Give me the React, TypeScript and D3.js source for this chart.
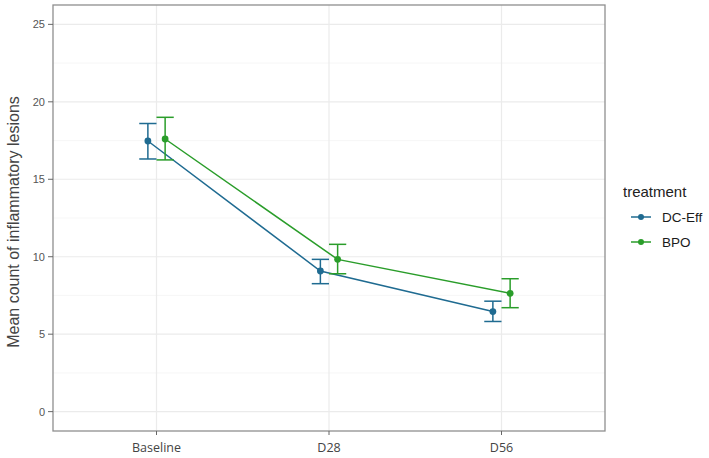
import * as d3 from "d3";

// time points and per-treatment summary values (mean with lower/upper error bar)
const timepoints = ["Baseline", "D28", "D56"];
const yTicks = [0, 5, 10, 15, 20, 25];

const treatments = ["DC-Eff", "BPO"];
const dcEffMean = [17.47, 9.08, 6.46];
const dcEffLow = [16.31, 8.26, 5.82];
const dcEffHigh = [18.6, 9.83, 7.13];
const bpoMean = [17.6, 9.83, 7.64];
const bpoLow = [16.25, 8.9, 6.71];
const bpoHigh = [19.0, 10.8, 8.58];

const colors = ["#1f6b91", "#2a9d2a"];

export default function App() {
  const width = 709;
  const height = 458;
  const panel = { left: 53, right: 605, top: 5, bottom: 431 };

  const x = d3
    .scalePoint<string>()
    .domain(timepoints)
    .range([panel.left, panel.right])
    .padding(0.6);

  const y = d3.scaleLinear().domain([-1.25, 26.25]).range([panel.bottom, panel.top]);

  const series = [
    { name: treatments[0], mean: dcEffMean, low: dcEffLow, high: dcEffHigh, color: colors[0], dodge: -1 },
    { name: treatments[1], mean: bpoMean, low: bpoLow, high: bpoHigh, color: colors[1], dodge: 1 },
  ];

  const offset = x.step() * 0.05;
  const capHalf = x.step() * 0.05;
  const px = (t: string, dodge: number) => x(t)! + dodge * offset;

  const minorY = d3.range(2.5, 25, 5);

  return (
    <svg
      width={width}
      height={height}
      style={{ position: "absolute", left: 0, top: 0, background: "#fff" }}
    >
      {/* grid */}
      {minorY.map(v => (
        <line key={"mn" + v} x1={panel.left} x2={panel.right} y1={y(v)} y2={y(v)} stroke="#f3f3f3" strokeWidth={0.7} />
      ))}
      {yTicks.map(v => (
        <line key={"mj" + v} x1={panel.left} x2={panel.right} y1={y(v)} y2={y(v)} stroke="#ebebeb" strokeWidth={1.2} />
      ))}
      {timepoints.map(t => (
        <line key={"gx" + t} x1={x(t)} x2={x(t)} y1={panel.top} y2={panel.bottom} stroke="#ebebeb" strokeWidth={1.2} />
      ))}

      {/* lines */}
      {series.map(s => {
        const line = d3
          .line<number>()
          .x((_, i) => px(timepoints[i], s.dodge))
          .y(d => y(d));
        return <path key={"l" + s.name} d={line(s.mean) ?? ""} fill="none" stroke={s.color} strokeWidth={1.5} />;
      })}

      {/* error bars */}
      {series.map(s =>
        timepoints.map((t, i) => {
          const cx = px(t, s.dodge);
          return (
            <g key={"e" + s.name + t} stroke={s.color} strokeWidth={1.5}>
              <line x1={cx} x2={cx} y1={y(s.low[i])} y2={y(s.high[i])} />
              <line x1={cx - capHalf} x2={cx + capHalf} y1={y(s.low[i])} y2={y(s.low[i])} />
              <line x1={cx - capHalf} x2={cx + capHalf} y1={y(s.high[i])} y2={y(s.high[i])} />
            </g>
          );
        })
      )}

      {/* points */}
      {series.map(s =>
        s.mean.map((v, i) => (
          <circle key={"p" + s.name + i} cx={px(timepoints[i], s.dodge)} cy={y(v)} r={3.4} fill={s.color} />
        ))
      )}

      {/* panel border */}
      <rect
        x={panel.left}
        y={panel.top}
        width={panel.right - panel.left}
        height={panel.bottom - panel.top}
        fill="none"
        stroke="#8f8f8f"
        strokeWidth={1.3}
      />

      {/* y axis */}
      {yTicks.map(v => (
        <g key={"yt" + v}>
          <line x1={panel.left - 5} x2={panel.left} y1={y(v)} y2={y(v)} stroke="#666" strokeWidth={1} />
          <text
            x={panel.left - 8}
            y={y(v)}
            textAnchor="end"
            dominantBaseline="central"
            fontFamily="Liberation Sans, Arial, sans-serif"
            fontSize={11}
            fill="#555"
          >
            {v}
          </text>
        </g>
      ))}

      {/* x axis */}
      {timepoints.map(t => (
        <g key={"xt" + t}>
          <line x1={x(t)} x2={x(t)} y1={panel.bottom} y2={panel.bottom + 4} stroke="#666" strokeWidth={1} />
          <text
            x={x(t)}
            y={452}
            textAnchor="middle"
            fontFamily="Open Sans, sans-serif"
            fontSize={12.5}
            fill="#444"
          >
            {t}
          </text>
        </g>
      ))}

      {/* axis title */}
      <text
        transform={`translate(19, ${(panel.top + panel.bottom) / 2 + 4}) rotate(-90)`}
        textAnchor="middle"
        fontFamily="Liberation Sans, Arial, sans-serif"
        fontSize={16}
        fill="#444"
      >
        Mean count of inflammatory lesions
      </text>

      {/* legend */}
      <text x={623} y={197} fontFamily="Liberation Sans, Arial, sans-serif" fontSize={15} fill="#222">
        treatment
      </text>
      {series.map((s, i) => {
        const ky = 217 + i * 25;
        return (
          <g key={"lg" + s.name}>
            <line x1={631} x2={651} y1={ky} y2={ky} stroke={s.color} strokeWidth={1.5} />
            <circle cx={641} cy={ky} r={3} fill={s.color} />
            <text
              x={662}
              y={ky}
              dominantBaseline="central"
              fontFamily="Liberation Sans, Arial, sans-serif"
              fontSize={13.5}
              fill="#1a1a1a"
            >
              {s.name}
            </text>
          </g>
        );
      })}
    </svg>
  );
}
